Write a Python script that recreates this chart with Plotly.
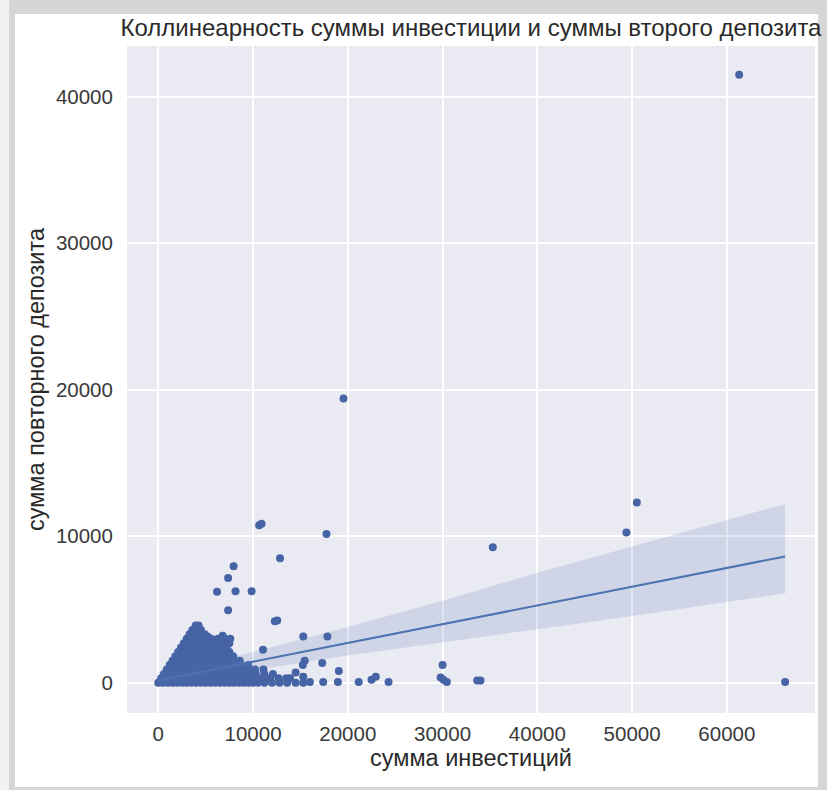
import plotly.graph_objects as go

# ---------------- data ----------------
# isolated points (investment, repeat deposit)
out_x = [61300, 19550, 50500, 49400, 35300, 10650, 10900, 17750, 12850, 7950,
         7370, 6200, 8150, 9850, 7370, 12300, 12550, 15300, 17850, 11050,
         15450, 15250, 17300, 19050, 30000, 29800, 30100, 30450, 33650, 34000,
         66150, 16000, 17400, 18950, 21150, 22500, 22950, 24300, 13900, 14500,
         15300, 6800, 5200]
out_y = [41500, 19400, 12300, 10250, 9250, 10750, 10850, 10150, 8500, 7950,
         7150, 6200, 6250, 6250, 4950, 4200, 4250, 3150, 3150, 2250,
         1500, 1200, 1350, 800, 1200, 350, 200, 50, 150, 150,
         50, 50, 50, 50, 50, 200, 400, 50, 300, 700,
         400, 3200, 3150]

# dense cluster near the origin, one list of investment values per deposit level
cl_levels = [0, 300, 600, 900, 1200, 1500, 1800, 2100, 2400, 2700, 3000, 3300, 3600, 3900]
cl_rows = [
    [0, 500, 1000, 1500, 2000, 2500, 3000, 3500, 4000, 4500, 5000, 5500, 6000, 6500,
     7000, 7500, 8000, 8500, 9000, 9500, 10000, 10500, 11200, 12000, 12800, 13600, 14500, 15300],
    [300, 800, 1300, 1800, 2300, 2800, 3300, 3800, 4300, 4800, 5300, 5800, 6300, 6800,
     7300, 7800, 8300, 8800, 9300, 9800, 10300, 11000, 11800, 12700, 13500],
    [600, 1100, 1600, 2100, 2600, 3100, 3600, 4100, 4600, 5100, 5600, 6100, 6600, 7100,
     7600, 8100, 8600, 9100, 9600, 10300, 11200, 12100],
    [900, 1400, 1900, 2400, 2900, 3400, 3900, 4400, 4900, 5400, 5900, 6400, 6900, 7400,
     7900, 8400, 8900, 9400, 10200, 11100],
    [1200, 1700, 2200, 2700, 3200, 3700, 4200, 4700, 5200, 5700, 6200, 6700, 7200, 7700,
     8200, 8700, 9500],
    [1500, 2000, 2500, 3000, 3500, 4000, 4500, 5000, 5500, 6000, 6500, 7000, 7500, 8000, 8600],
    [1800, 2300, 2800, 3300, 3800, 4300, 4800, 5300, 5800, 6300, 6800, 7300, 7900],
    [2100, 2600, 3100, 3600, 4100, 4600, 5100, 5600, 6100, 6600, 7100, 7500],
    [2400, 2900, 3400, 3900, 4400, 4900, 5400, 5900, 6400, 6900, 7200],
    [2700, 3200, 3700, 4200, 4700, 5200, 5700, 6300, 6800, 7500],
    [3000, 3500, 4000, 4500, 5000, 5600, 6300, 7000, 7600],
    [3300, 3800, 4300, 4900],
    [3600, 4100, 4500],
    [3950, 4250],
]

# regression line and confidence band
fit_x = [0, 5000, 10000, 20000, 30000, 40000, 50000, 60000, 66150]
fit_y = [150, 790, 1430, 2710, 3990, 5270, 6550, 7830, 8620]
ci_hi = [700, 1350, 2100, 3800, 5600, 7500, 9300, 11100, 12200]
ci_lo = [-300, 300, 850, 1850, 2750, 3650, 4550, 5500, 6100]

x_ticks = [0, 10000, 20000, 30000, 40000, 50000, 60000]
y_ticks = [0, 10000, 20000, 30000, 40000]

title = "Коллинеарность суммы инвестиции и суммы второго депозита"
x_title = "сумма инвестиций"
y_title = "сумма повторного депозита"

# ---------------- figure ----------------
W, H = 827, 790
L, R, T, B = 127, 12, 46, 77
PW, PH = W - L - R, H - T - B


def px(xp):
    return (xp - L) / PW


def py(yp):
    return (H - B - yp) / PH


pts_x = list(out_x)
pts_y = list(out_y)
for lvl, row in zip(cl_levels, cl_rows):
    pts_x += row
    pts_y += [lvl] * len(row)

blue = "#4C72B0"
fig = go.Figure()
fig.add_trace(go.Scatter(x=pts_x, y=pts_y, mode="markers",
                         marker=dict(color="rgb(70,100,165)", size=8, line=dict(width=0)),
                         hoverinfo="skip", showlegend=False))
fig.add_trace(go.Scatter(x=fit_x + fit_x[::-1], y=ci_hi + ci_lo[::-1], mode="lines",
                         fill="toself", fillcolor="rgba(76,114,176,0.17)",
                         line=dict(width=0), hoverinfo="skip", showlegend=False))
fig.add_trace(go.Scatter(x=fit_x, y=fit_y, mode="lines",
                         line=dict(color=blue, width=2), hoverinfo="skip", showlegend=False))

shapes = [
    # screenshot frame
    dict(type="rect", xref="paper", yref="paper", x0=px(9), x1=px(827), y0=py(790), y1=py(0),
         fillcolor="#d6d6d6", line=dict(width=0), layer="below"),
    dict(type="rect", xref="paper", yref="paper", x0=px(15), x1=px(818), y0=py(787), y1=py(14),
         fillcolor="white", line=dict(width=0), layer="below"),
    # plot background
    dict(type="rect", xref="paper", yref="paper", x0=0, x1=1, y0=0, y1=1,
         fillcolor="#EAEAF2", line=dict(width=0), layer="below"),
]

font_family = "Liberation Sans, Arial, sans-serif"
fig.update_layout(
    width=W, height=H,
    margin=dict(l=L, r=R, t=T, b=B, autoexpand=False),
    paper_bgcolor="#f1f1f1",
    plot_bgcolor="#EAEAF2",
    shapes=shapes,
    font=dict(family=font_family, color="#333333"),
    title=dict(text=title, x=0.5, xref="paper", xanchor="center",
               y=1 - 28 / H, yref="container", yanchor="middle",
               font=dict(size=24, color="#2a2a2a", family=font_family)),
    xaxis=dict(range=[-3300, 69300], tickvals=x_ticks, ticktext=[str(v) for v in x_ticks],
               showgrid=True, gridcolor="white", gridwidth=1.5, zeroline=False,
               showline=False, ticks="outside", ticklen=2, tickcolor="rgba(0,0,0,0)",
               tickfont=dict(size=20.5, color="#3a3a3a"),
               title=dict(text=x_title, font=dict(size=23.5, color="#2a2a2a"), standoff=0),
               automargin=False),
    yaxis=dict(range=[-2070, 43470], tickvals=y_ticks, ticktext=[str(v) for v in y_ticks],
               showgrid=True, gridcolor="white", gridwidth=1.5, zeroline=False,
               showline=False, ticks="outside", ticklen=9, tickcolor="rgba(0,0,0,0)",
               tickfont=dict(size=20.5, color="#3a3a3a"),
               title=dict(text=y_title, font=dict(size=23.5, color="#2a2a2a"), standoff=4),
               automargin=False),
)

fig.write_html("out.html", config={"displayModeBar": False},
               post_script="document.body.style.margin='0';document.body.style.overflow='hidden';")
